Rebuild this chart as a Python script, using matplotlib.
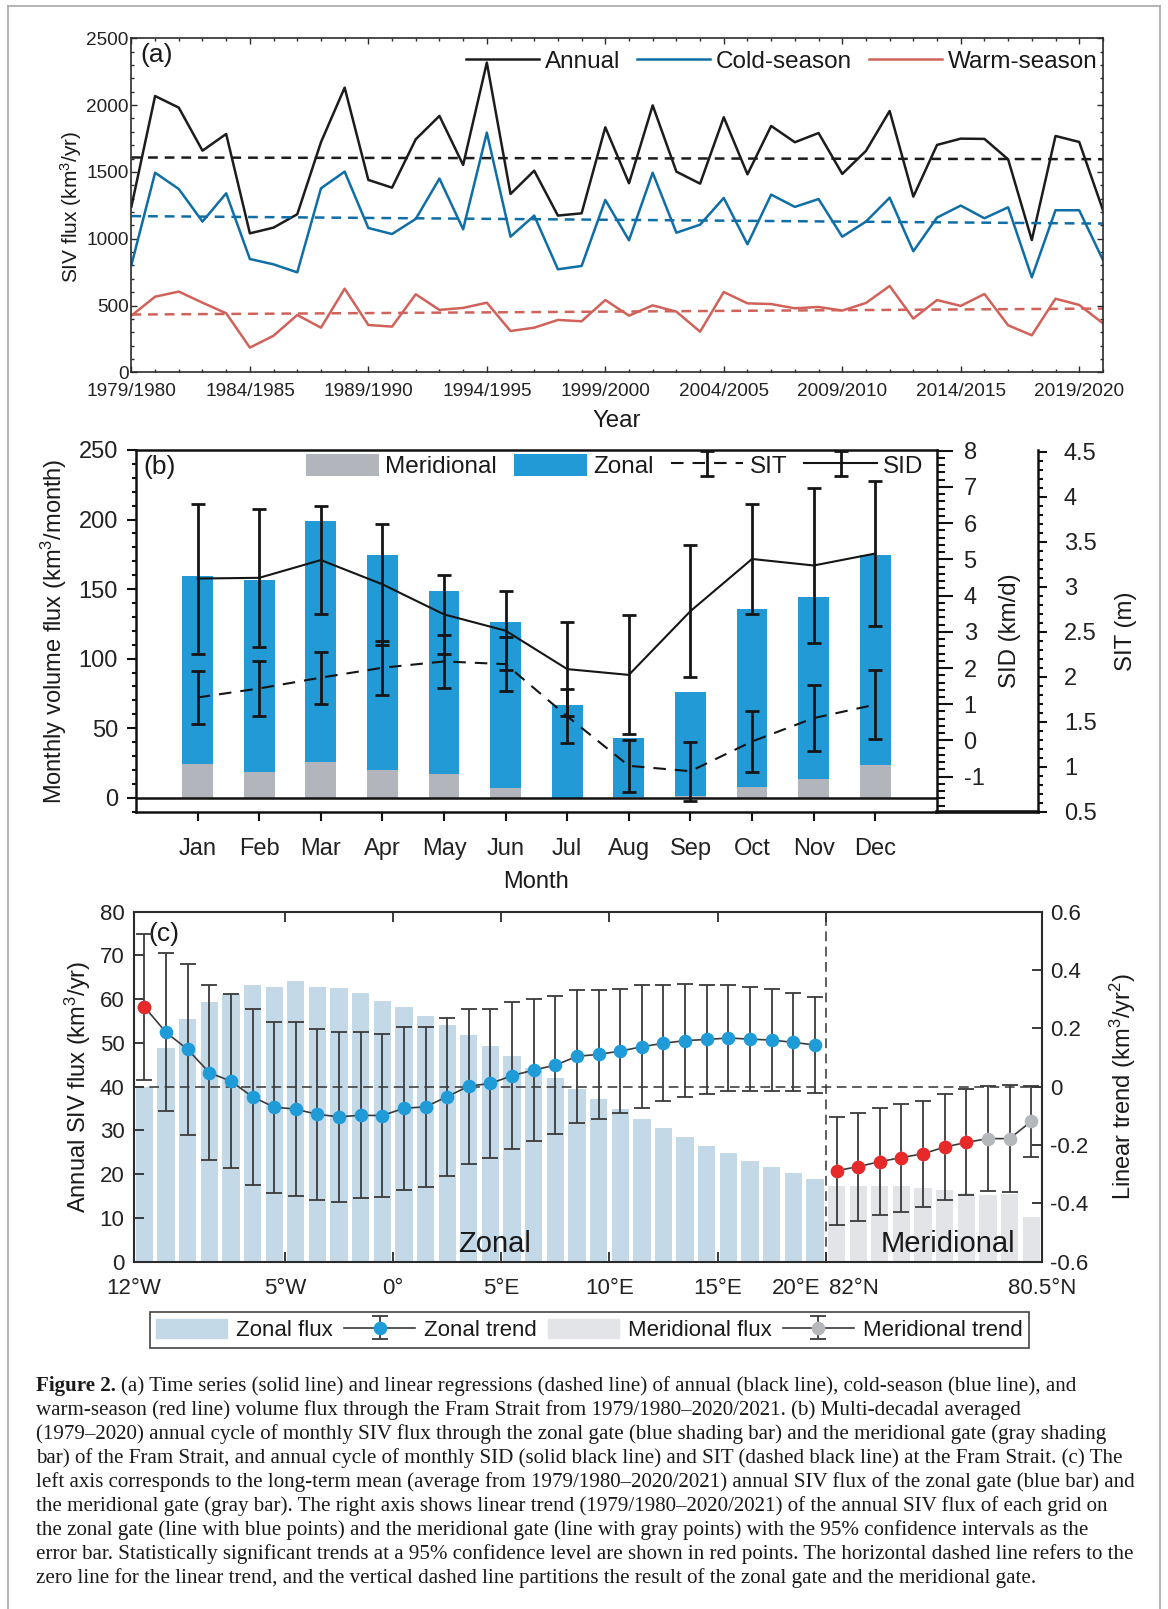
import numpy as np
import matplotlib.pyplot as plt
from matplotlib.lines import Line2D
from matplotlib.patches import Patch
from matplotlib.ticker import MultipleLocator, FormatStrFormatter

plt.rcParams['font.family'] = ['Liberation Sans', 'DejaVu Sans']
plt.rcParams['mathtext.default'] = 'regular'
plt.rcParams['axes.unicode_minus'] = False
plt.rcParams['lines.scale_dashes'] = False
plt.rcParams['text.color'] = '#1a1a1a'

# ---- (a) annual / cold / warm season SIV flux, 1979/1980 - 2020/2021
seasons = [f'{y}/{y + 1}' for y in range(1979, 2021)]
annual = [1240, 2068, 1981, 1659, 1784, 1040, 1083, 1183, 1722, 2131, 1440, 1382,
          1744, 1919, 1552, 2318, 1335, 1509, 1173, 1190, 1834, 1415, 1998, 1502,
          1412, 1909, 1482, 1844, 1722, 1791, 1485, 1657, 1956, 1315, 1702, 1749,
          1747, 1594, 990, 1769, 1724, 1215]
cold = [803, 1494, 1372, 1128, 1340, 848, 808, 748, 1377, 1502, 1080, 1035,
        1148, 1450, 1070, 1794, 1015, 1173, 771, 796, 1290, 988, 1494, 1045,
        1105, 1305, 958, 1330, 1238, 1297, 1015, 1128, 1307, 906, 1158, 1248,
        1153, 1235, 711, 1213, 1213, 841]
warm = [424, 566, 604, 521, 442, 185, 274, 429, 334, 626, 354, 342,
        584, 467, 482, 521, 309, 334, 392, 382, 541, 424, 501, 454,
        304, 601, 516, 511, 479, 489, 462, 519, 646, 402, 541, 497,
        586, 352, 277, 551, 504, 367]

# ---- (b) monthly cycle
months = ['Jan', 'Feb', 'Mar', 'Apr', 'May', 'Jun', 'Jul', 'Aug', 'Sep', 'Oct', 'Nov', 'Dec']
merid_month = [24.2, 18.7, 25.6, 19.9, 17.0, 7.0, 0.0, 0.5, 1.2, 7.7, 13.4, 23.5]
zonal_month = [135.2, 137.8, 173.3, 154.6, 131.6, 119.3, 66.6, 42.4, 74.8, 128.0, 130.9, 151.0]
sid = [4.47, 4.49, 4.98, 4.31, 3.48, 3.03, 1.97, 1.81, 3.57, 5.01, 4.83, 5.16]
sid_err = [2.07, 1.90, 1.49, 1.67, 1.09, 1.09, 1.30, 1.64, 1.82, 1.51, 2.14, 1.99]
sit = [1.77, 1.87, 1.99, 2.10, 2.17, 2.14, 1.56, 1.01, 0.95, 1.28, 1.54, 1.69]
sit_err = [0.29, 0.31, 0.29, 0.30, 0.29, 0.30, 0.30, 0.29, 0.33, 0.34, 0.37, 0.38]

# ---- (c) flux and trend per grid cell along the gates
zonal_flux = [40.0, 48.8, 55.5, 59.4, 61.1, 63.3, 62.8, 64.1, 62.8, 62.6, 61.4, 59.6,
              58.2, 56.2, 54.1, 51.9, 49.2, 47.1, 44.3, 41.9, 39.5, 37.1, 34.9, 32.7,
              30.6, 28.6, 26.5, 24.8, 23.1, 21.6, 20.2, 19.0]
merid_flux = [17.4, 17.4, 17.4, 17.3, 16.8, 16.4, 15.6, 15.2, 15.4, 10.3]
zonal_trend = [0.274, 0.186, 0.128, 0.048, 0.019, -0.035, -0.070, -0.077, -0.095, -0.103,
               -0.098, -0.099, -0.074, -0.069, -0.034, 0.002, 0.011, 0.038, 0.057, 0.074,
               0.104, 0.111, 0.122, 0.137, 0.149, 0.158, 0.162, 0.167, 0.163, 0.160,
               0.152, 0.143]
zonal_err = [0.251, 0.271, 0.293, 0.299, 0.299, 0.303, 0.293, 0.299, 0.294, 0.291,
             0.285, 0.279, 0.280, 0.275, 0.271, 0.266, 0.257, 0.251, 0.244, 0.237,
             0.227, 0.222, 0.213, 0.210, 0.199, 0.193, 0.186, 0.182, 0.178, 0.174,
             0.168, 0.166]
zonal_sig = [True] + [False] * 31
merid_trend = [-0.288, -0.274, -0.257, -0.243, -0.230, -0.207, -0.191, -0.178, -0.178, -0.119]
merid_err = [0.185, 0.185, 0.183, 0.185, 0.182, 0.183, 0.182, 0.180, 0.184, 0.123]
merid_sig = [True] * 7 + [False] * 3
c_ticks = [0, 7, 12, 17, 22, 27, 32, 42]
c_ticklabels = ['12°W', '5°W', '0°', '5°E', '10°E', '15°E', '', '80.5°N']

caption = [
    "(a) Time series (solid line) and linear regressions (dashed line) of annual (black line), cold-season (blue line), and",
    "warm-season (red line) volume flux through the Fram Strait from 1979/1980–2020/2021. (b) Multi-decadal averaged",
    "(1979–2020) annual cycle of monthly SIV flux through the zonal gate (blue shading bar) and the meridional gate (gray shading",
    "bar) of the Fram Strait, and annual cycle of monthly SID (solid black line) and SIT (dashed black line) at the Fram Strait. (c) The",
    "left axis corresponds to the long-term mean (average from 1979/1980–2020/2021) annual SIV flux of the zonal gate (blue bar) and",
    "the meridional gate (gray bar). The right axis shows linear trend (1979/1980–2020/2021) of the annual SIV flux of each grid on",
    "the zonal gate (line with blue points) and the meridional gate (line with gray points) with the 95% confidence intervals as the",
    "error bar. Statistically significant trends at a 95% confidence level are shown in red points. The horizontal dashed line refers to the",
    "zero line for the linear trend, and the vertical dashed line partitions the result of the zonal gate and the meridional gate.",
]

W, H = 1168, 1609


def box(l, t, r, b):
    return [l / W, 1 - b / H, (r - l) / W, (b - t) / H]


def ftext(x, y, s, **kw):
    return fig.text(x / W, 1 - y / H, s, ha='center', va='center', **kw)


fig = plt.figure(figsize=(W / 100, H / 100), dpi=100)
spine_c = '#2b2b2b'

# ================= (a)
ax = fig.add_axes(box(131.4, 38.3, 1102.9, 372.3))
idx = np.arange(len(annual))
for vals, col, lab in [(annual, '#1c1c1c', 'Annual'),
                       (cold, '#0e6ea5', 'Cold-season'),
                       (warm, '#d0625a', 'Warm-season')]:
    ax.plot(idx, vals, color=col, lw=1.8, label=lab)
    k, b0 = np.polyfit(idx, vals, 1)
    ax.plot(idx, k * idx + b0, color=col, lw=1.8, dashes=(7, 5))
ax.set_xlim(0, 41)
ax.set_ylim(0, 2500)
ax.set_xticks(idx[::5])
ax.set_xticklabels(seasons[::5])
ax.set_yticks(range(0, 2501, 500))
ax.xaxis.set_minor_locator(MultipleLocator(1))
ax.yaxis.set_minor_locator(MultipleLocator(100))
ax.tick_params(which='both', direction='in', top=True, right=True, width=1,
               colors=spine_c, labelcolor='#222', labelsize=13.7)
ax.tick_params(which='major', length=4.5)
ax.tick_params(which='minor', length=2.3)
ax.tick_params(axis='y', pad=2)
ax.tick_params(axis='x', pad=8)
for sp in ax.spines.values():
    sp.set_linewidth(1.2)
    sp.set_color(spine_c)
ax.text(0.009, 0.985, '(a)', transform=ax.transAxes, va='top', fontsize=19)
ax.legend(loc='center right', bbox_to_anchor=(0.995, 0.93), ncol=3, frameon=False,
          fontsize=17.5, handlelength=3.0, handletextpad=0.25, columnspacing=0.7,
          borderpad=0, borderaxespad=0)
ftext(70.7, 206.7, 'SIV flux (km$^3$/yr)', rotation=90, fontsize=15)
ftext(617, 421, 'Year', fontsize=17.3)

# ================= (b)
axb = fig.add_axes(box(136.1, 450, 936.8, 811.7))
xm = np.arange(1, 13)
bm = axb.bar(xm, merid_month, 0.5, color='#b2b5bb')
bz = axb.bar(xm, zonal_month, 0.5, bottom=merid_month, color='#219ad6')
axb.axhline(0, color='#111', lw=1.8)
axb.set_xlim(0, 13)
axb.set_ylim(-10, 250)
axb.set_xticks(xm)
axb.set_xticklabels(months)
axb.set_yticks(range(0, 251, 50))
axb.yaxis.set_minor_locator(MultipleLocator(10))
axb.tick_params(which='both', direction='out', right=False, top=False, width=1.5,
                colors='#111', labelcolor='#222', labelsize=17)
axb.tick_params(which='major', length=6.5)
axb.tick_params(which='minor', length=3.2)
axb.tick_params(axis='x', pad=12.5)
axb.tick_params(axis='y', pad=6.5)
for sp in axb.spines.values():
    sp.set_linewidth(1.8)
    sp.set_color('#111')
axb.spines['right'].set_visible(False)
axb.text(0.0094, 0.986, '(b)', transform=axb.transAxes, va='top', fontsize=19)

ax_sid = axb.twinx()
ax_sid.set_ylim(-1.966, 8.018)
ax_sid.set_yticks(range(-1, 9))
ax_sid.yaxis.set_minor_locator(MultipleLocator(0.2))
ax_sid.tick_params(which='both', direction='out', width=1.5, colors='#111',
                   labelcolor='#222', labelsize=17, pad=7.8)
ax_sid.tick_params(which='major', length=11.5)
ax_sid.tick_params(which='minor', length=6)
sid_eb = ax_sid.errorbar(xm, sid, yerr=sid_err, color='#151515', lw=1.5,
                         elinewidth=2.0, capsize=5, capthick=2.0)

ax_sit = axb.twinx()
ax_sit.spines['right'].set_position(('axes', 1.1258))
ax_sit.set_ylim(0.5, 4.52)
ax_sit.set_yticks(np.arange(0.5, 4.51, 0.5))
ax_sit.yaxis.set_major_formatter(FormatStrFormatter('%g'))
ax_sit.yaxis.set_minor_locator(MultipleLocator(0.1))
ax_sit.tick_params(which='both', direction='out', width=1.5, colors='#111',
                   labelcolor='#222', labelsize=17, pad=12.5)
ax_sit.tick_params(which='major', length=6.5)
ax_sit.tick_params(which='minor', length=3.6)
sit_eb = ax_sit.errorbar(xm, sit, yerr=sit_err, color='#151515', lw=1.5, ls='--',
                         elinewidth=2.0, capsize=5, capthick=2.0)
sit_eb[0].set_dashes((9, 6.5))
for a in (ax_sid, ax_sit):
    for s in ('top', 'left', 'bottom'):
        a.spines[s].set_visible(False)
    a.spines['right'].set_linewidth(1.8)
    a.spines['right'].set_color('#111')
axb.add_line(Line2D([1.0, 1.1258], [0, 0], transform=axb.transAxes, clip_on=False,
                    color='#111', lw=2.6))
ax_sit.legend([bm, bz, sit_eb, sid_eb], ['Meridional', 'Zonal', 'SIT', 'SID'],
              loc='center', bbox_to_anchor=(0.598, 0.956), ncol=4, frameon=False,
              fontsize=17.5, handlelength=3.0, handleheight=1.0, handletextpad=0.25,
              columnspacing=0.7, borderpad=0, borderaxespad=0)
ftext(54.1, 630.8, 'Monthly volume flux (km$^3$/month)', rotation=90, fontsize=17)
ftext(1010, 630.8, 'SID (km/d)', rotation=90, fontsize=17.3)
ftext(1126, 630.8, 'SIT (m)', rotation=90, fontsize=17.3)
ftext(536, 882.5, 'Month', fontsize=17)

# ================= (c)
axc = fig.add_axes(box(133.6, 911.7, 1042, 1261.7))
xz = np.arange(len(zonal_flux)) + 0.5
xr = len(zonal_flux) + np.arange(len(merid_flux)) + 0.5
axc.bar(xz, zonal_flux, 0.8, color='#c3d9e8')
axc.bar(xr, merid_flux, 0.8, color='#e3e4e7')
axc.axvline(32, color='#333', lw=1.1, dashes=(7, 4))
axc.set_xlim(0, 42)
axc.set_ylim(0, 80)
axc.set_yticks(range(0, 81, 10))
axc.set_xticks(c_ticks)
axc.set_xticklabels(c_ticklabels)
axc.tick_params(direction='in', top=True, right=False, length=7, width=1.3,
                colors=spine_c, labelcolor='#222', labelsize=16)
axc.tick_params(axis='x', pad=11.5)
axc.tick_params(axis='y', pad=6.5)
for sp in axc.spines.values():
    sp.set_linewidth(1.5)
    sp.set_color(spine_c)
axc.text(31.77, -0.0457, '20°E', transform=axc.get_xaxis_transform(), ha='right',
         va='top', fontsize=16, color='#222')
axc.text(32.13, -0.0457, '82°N', transform=axc.get_xaxis_transform(), ha='left',
         va='top', fontsize=16, color='#222')
axc.text(16.7, 2.3, 'Zonal', ha='center', va='baseline', fontsize=21)
axc.text(37.65, 2.3, 'Meridional', ha='center', va='baseline', fontsize=21)
axc.text(0.016, 0.97, '(c)', transform=axc.transAxes, va='top', fontsize=19)

axc2 = axc.twinx()
axc2.set_ylim(-0.6, 0.6)
axc2.set_yticks([-0.6, -0.4, -0.2, 0, 0.2, 0.4, 0.6])
axc2.set_yticklabels(['-0.6', '-0.4', '-0.2', '0', '0.2', '0.4', '0.6'])
axc2.tick_params(direction='in', length=7, width=1.3, colors=spine_c,
                 labelcolor='#222', labelsize=16, pad=6)
for sp in axc2.spines.values():
    sp.set_visible(False)
axc2.axhline(0, color='#333', lw=1.1, dashes=(7, 4))
ez = axc2.errorbar(xz, zonal_trend, yerr=zonal_err, fmt='-o', color='#3a3a3a', lw=1.2,
                   mfc='#1f9bd8', mec='none', ms=9.8, elinewidth=1.3, capsize=5.5,
                   capthick=1.3, zorder=3)
er = axc2.errorbar(xr, merid_trend, yerr=merid_err, fmt='-o', color='#3a3a3a', lw=1.2,
                   mfc='#b4b7bc', mec='none', ms=9.8, elinewidth=1.3, capsize=5.5,
                   capthick=1.3, zorder=3)
zs = np.array(zonal_sig)
ms_ = np.array(merid_sig)
axc2.plot(xz[zs], np.array(zonal_trend)[zs], 'o', color='#e8292a', ms=9.8, mec='none', zorder=4)
axc2.plot(xr[ms_], np.array(merid_trend)[ms_], 'o', color='#e8292a', ms=9.8, mec='none', zorder=4)
ftext(78.2, 1086.7, 'Annual SIV flux (km$^3$/yr)', rotation=90, fontsize=17)
ftext(1123, 1086.7, 'Linear trend (km$^3$/yr$^2$)', rotation=90, fontsize=17)

leg = fig.legend([Patch(color='#c3d9e8'), ez, Patch(color='#e3e4e7'), er],
                 ['Zonal flux', 'Zonal trend', 'Meridional flux', 'Meridional trend'],
                 loc='center', bbox_to_anchor=(589.5 / W, 1 - 1330 / H), ncol=4,
                 frameon=True, fancybox=False, edgecolor='#444', framealpha=1,
                 fontsize=16, handlelength=3.2, handleheight=0.95, handletextpad=0.4,
                 columnspacing=0.5, borderpad=0.3)
leg.get_frame().set_linewidth(1.2)

# ================= caption
renderer = fig.canvas.get_renderer()
probe = fig.text(0, 0, caption[7], fontsize=14, family='Liberation Serif')
cap_size = 14 * 1102 / probe.get_window_extent(renderer).width
probe.remove()
x0 = 36.4
for k, line in enumerate(caption):
    y = 1 - (1386 + 24 * k) / H
    if k == 0:
        tb = fig.text(x0 / W, y, 'Figure 2.', fontsize=cap_size, family='Liberation Serif',
                      weight='bold', va='center')
        wb = tb.get_window_extent(renderer).width
        fig.text((x0 + wb + cap_size * 0.3) / W, y, line, fontsize=cap_size,
                 family='Liberation Serif', va='center')
    else:
        fig.text(x0 / W, y, line, fontsize=cap_size, family='Liberation Serif', va='center')

# page frame
for xs, ys in [([8.3, 8.3], [H, 6]), ([8.3, 1160], [6, 6]), ([1160, 1160], [6, H])]:
    fig.add_artist(Line2D([v / W for v in xs], [1 - v / H for v in ys], color='#a8a8a8', lw=1.2))

fig.savefig('out.png', dpi=100)
